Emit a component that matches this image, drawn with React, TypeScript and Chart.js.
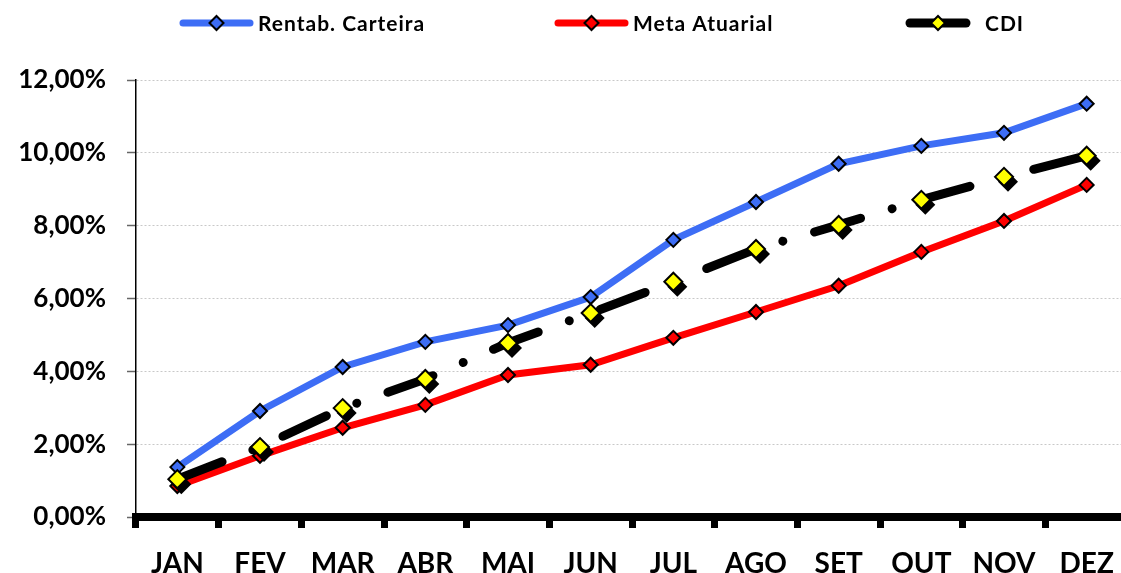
import React, { useEffect, useRef } from "react";
import { Chart, registerables } from "chart.js";
Chart.register(...registerables);

const months = ["JAN", "FEV", "MAR", "ABR", "MAI", "JUN", "JUL", "AGO", "SET", "OUT", "NOV", "DEZ"];
const rentabCarteira = [1.37, 2.91, 4.12, 4.81, 5.27, 6.04, 7.61, 8.65, 9.7, 10.19, 10.55, 11.35];
const metaAtuarial = [0.85, 1.68, 2.45, 3.08, 3.9, 4.18, 4.92, 5.63, 6.35, 7.28, 8.13, 9.12];
const cdi = [1.04, 1.92, 2.99, 3.79, 4.78, 5.6, 6.46, 7.36, 8.02, 8.71, 9.34, 9.92];
const seriesNames = ["Rentab. Carteira", "Meta Atuarial", "CDI"];
const yMin = 0;
const yMax = 12;
const yStep = 2;

const FONT = "Lato, 'Open Sans', sans-serif";

const fmt = (v: number) => v.toFixed(2).replace(".", ",") + "%";

function diamond(ctx: CanvasRenderingContext2D, x: number, y: number, r: number) {
  ctx.beginPath();
  ctx.moveTo(x - r, y);
  ctx.lineTo(x, y - r);
  ctx.lineTo(x + r, y);
  ctx.lineTo(x, y + r);
  ctx.closePath();
}

const shadowPlugin = {
  id: "cdiShadow",
  beforeDatasetDraw(chart: any, args: any) {
    if (args.index !== 2) return;
    const ctx = chart.ctx as CanvasRenderingContext2D;
    const meta = chart.getDatasetMeta(2);
    ctx.save();
    ctx.fillStyle = "#000";
    meta.data.forEach((p: any) => {
      diamond(ctx, p.x + 4, p.y + 5, 10);
      ctx.fill();
    });
    ctx.restore();
  },
};

const legendPlugin = {
  id: "customLegend",
  afterDraw(chart: any) {
    const ctx = chart.ctx as CanvasRenderingContext2D;
    const items = [
      { x: 180, w: 73, tx: 258 },
      { x: 555, w: 73, tx: 633 },
      { x: 907, w: 62, tx: 985 },
    ];
    const y = 23;
    ctx.save();
    items.forEach((it, i) => {
      const ds = chart.data.datasets[i];
      ctx.lineCap = "round";
      ctx.strokeStyle = ds.borderColor;
      ctx.lineWidth = i === 2 ? 9 : 7;
      ctx.setLineDash([]);
      ctx.beginPath();
      ctx.moveTo(it.x + 3, y);
      ctx.lineTo(it.x + it.w - 3, y);
      ctx.stroke();
      diamond(ctx, it.x + it.w / 2, y, 7);
      ctx.fillStyle = ds.pointBackgroundColor;
      ctx.fill();
      ctx.lineWidth = 2;
      ctx.strokeStyle = "#000";
      ctx.stroke();
      ctx.fillStyle = "#000";
      ctx.font = `bold 21px ${FONT}`;
      (ctx as any).letterSpacing = "1px";
      ctx.textBaseline = "middle";
      ctx.textAlign = "left";
      ctx.fillText(seriesNames[i], it.tx, y + 1);
      (ctx as any).letterSpacing = "0px";
    });
    ctx.restore();
  },
};

export default function App() {
  const ref = useRef<HTMLCanvasElement>(null);
  useEffect(() => {
    const chart = new Chart(ref.current!, {
      type: "line",
      data: {
        labels: months,
        datasets: [
          {
            label: seriesNames[0],
            data: rentabCarteira,
            borderColor: "#3D6DF5",
            backgroundColor: "#3D6DF5",
            pointBackgroundColor: "#3D6DF5",
            pointBorderColor: "#000",
            pointBorderWidth: 2,
            pointRadius: 7,
            pointStyle: "rectRot",
            borderWidth: 7,
            order: 2,
          } as any,
          {
            label: seriesNames[1],
            data: metaAtuarial,
            borderColor: "#FF0000",
            backgroundColor: "#FF0000",
            pointBackgroundColor: "#FF0000",
            pointBorderColor: "#000",
            pointBorderWidth: 2,
            pointRadius: 7,
            pointStyle: "rectRot",
            borderWidth: 7,
            order: 1,
          },
          {
            label: seriesNames[2],
            data: cdi,
            borderColor: "#000000",
            backgroundColor: "#000000",
            pointBackgroundColor: "#FFFF00",
            pointBorderColor: "#000",
            pointBorderWidth: 2,
            pointRadius: 9,
            pointStyle: "rectRot",
            borderWidth: 9,
            borderCapStyle: "round",
            borderDash: [48, 33, 0.01, 33],
            order: 0,
          },
        ],
      },
      options: {
        animation: false,
        responsive: false,
        maintainAspectRatio: false,
        layout: { padding: { top: 80, right: 1, left: 0, bottom: 0 } },
        plugins: { legend: { display: false }, tooltip: { enabled: false } },
        scales: {
          x: {
            offset: true,
            grid: {
              offset: true,
              drawOnChartArea: false,
              tickLength: 11,
              tickWidth: 7,
              tickColor: "#000",
            },
            border: { display: true, color: "#000", width: 8 },
            ticks: {
              color: "#000",
              font: { family: FONT, size: 28, weight: "bold" },
              padding: 19,
            },
            afterFit: (s: any) => {
              s.height = 56;
            },
          },
          y: {
            min: yMin,
            max: yMax,
            ticks: {
              stepSize: yStep,
              color: "#000",
              font: { family: FONT, size: 26, weight: "bold" },
              padding: 21,
              callback: (v: any) => fmt(Number(v)),
            },
            grid: {
              color: "#c8c8c8",
              lineWidth: 1,
              tickLength: 9,
              tickColor: "#666",
              tickWidth: 1.5,
            },
            border: { display: true, color: "#000", width: 1.5, dash: [2, 2] },
            afterFit: (s: any) => {
              s.width = 136;
            },
          },
        },
      },
      plugins: [shadowPlugin, legendPlugin],
    });
    return () => chart.destroy();
  }, []);
  return (
    <div style={{ position: "fixed", left: 0, top: 0, width: 1121, height: 573, overflow: "hidden", background: "#fff" }}>
      <canvas ref={ref} width={1139} height={573} style={{ width: 1139, height: 573, display: "block" }} />
    </div>
  );
}
